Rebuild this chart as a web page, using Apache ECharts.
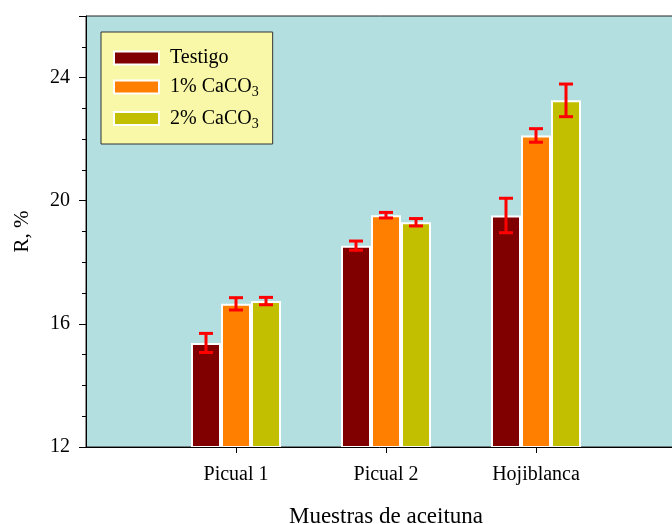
<!DOCTYPE html>
<html>
<head>
<meta charset="utf-8">
<title>R, % — Muestras de aceituna</title>
<script src="https://cdn.jsdelivr.net/npm/echarts@6/dist/echarts.min.js"></script>
<style>
  html, body { margin: 0; padding: 0; background: #ffffff; }
  #chart { width: 672px; height: 524px; }
</style>
</head>
<body>
<div id="chart"></div>
<script>
// Olive samples and treatments
const categories = ['Picual 1', 'Picual 2', 'Hojiblanca'];
const seriesNames = ['Testigo', '1% CaCO3', '2% CaCO3'];

// Mean R (%) per sample
const testigo = [15.38, 18.54, 19.52];
const caco1 = [16.65, 19.53, 22.12];
const caco2 = [16.74, 19.30, 23.26];

// Error (±) per sample
const testigoErr = [0.31, 0.15, 0.56];
const caco1Err = [0.20, 0.09, 0.22];
const caco2Err = [0.12, 0.12, 0.53];

// Y axis tick labels
const yTicks = [12, 16, 20, 24];

const values = [testigo, caco1, caco2];
const errors = [testigoErr, caco1Err, caco2Err];
const colors = ['#800000', '#ff8000', '#c2bf00'];

const FONT = "'Liberation Serif', 'Times New Roman', serif";
const BAR_W = 30;

// Padded category list: empty slots at both ends give the wide margins
const axisCats = [''].concat(categories, ['']);

const barSeries = seriesNames.map((name, s) => ({
  name: name,
  type: 'bar',
  barWidth: BAR_W,
  barGap: '0%',
  z: 2,
  itemStyle: { color: colors[s], borderColor: '#ffffff', borderWidth: 2 },
  data: [null].concat(values[s], [null])
}));

const errSeries = seriesNames.map((name, s) => ({
  type: 'custom',
  z: 5,
  silent: true,
  data: values[s].map((v, i) => [i + 1, v - errors[s][i], v + errors[s][i]]),
  renderItem: function (params, api) {
    const lo = api.coord([api.value(0), api.value(1)]);
    const hi = api.coord([api.value(0), api.value(2)]);
    const x = lo[0] + (s - 1) * BAR_W;
    const cap = 7;
    const style = { stroke: '#ff0000', lineWidth: 3 };
    return {
      type: 'group',
      children: [
        { type: 'line', shape: { x1: x, y1: lo[1], x2: x, y2: hi[1] }, style: style },
        { type: 'line', shape: { x1: x - cap, y1: lo[1], x2: x + cap, y2: lo[1] }, style: style },
        { type: 'line', shape: { x1: x - cap, y1: hi[1], x2: x + cap, y2: hi[1] }, style: style }
      ]
    };
  }
}));

const chart = echarts.init(document.getElementById('chart'), null, { renderer: 'canvas' });

chart.setOption({
  animation: false,
  backgroundColor: '#ffffff',
  textStyle: { fontFamily: FONT },
  grid: {
    left: 86, top: 16, width: 600, height: 431,
    containLabel: false,
    outerBoundsMode: 'none',
    show: true,
    backgroundColor: '#b3dfe0',
    borderColor: '#222222',
    borderWidth: 1
  },
  legend: {
    orient: 'vertical',
    left: 101,
    top: 32,
    data: seriesNames,
    backgroundColor: '#f8f8a8',
    borderColor: '#333333',
    borderWidth: 1,
    padding: [16, 14, 13, 12],
    itemGap: 9,
    itemWidth: 45,
    itemHeight: 13,
    icon: 'rect',
    selectedMode: false,
    formatter: function (name) {
      return '{g| }' + name.replace(/CaCO3$/, 'CaCO{s|3}');
    },
    textStyle: {
      fontFamily: FONT,
      fontSize: 20,
      color: '#000000',
      rich: {
        g: { width: 6, fontSize: 10 },
        s: { fontFamily: FONT, fontSize: 14, color: '#000000', padding: [11, 0, 0, 0] }
      }
    }
  },
  xAxis: {
    type: 'category',
    data: axisCats,
    boundaryGap: false,
    z: 10,
    name: 'Muestras de aceituna',
    nameLocation: 'middle',
    nameGap: 58,
    nameTextStyle: { fontFamily: FONT, fontSize: 23, color: '#000000' },
    axisLine: { lineStyle: { color: '#000000', width: 1 } },
    axisTick: {
      length: 6,
      lineStyle: { color: '#000000' },
      interval: function (index) { return index > 0 && index < axisCats.length - 1; }
    },
    axisLabel: {
      interval: 0,
      margin: 18,
      fontFamily: FONT,
      fontSize: 20,
      color: '#000000'
    },
    splitLine: { show: false }
  },
  yAxis: {
    type: 'value',
    min: yTicks[0],
    max: 26,
    interval: yTicks[1] - yTicks[0],
    z: 10,
    name: 'R, %',
    nameLocation: 'middle',
    nameGap: 53,
    nameTextStyle: { fontFamily: FONT, fontSize: 21, color: '#000000' },
    axisLine: { show: true, lineStyle: { color: '#000000', width: 1 } },
    axisTick: { show: true, length: 7, lineStyle: { color: '#000000' } },
    minorTick: { show: true, splitNumber: 4, length: 4, lineStyle: { color: '#000000' } },
    axisLabel: {
      margin: 16,
      fontFamily: FONT,
      fontSize: 20,
      color: '#000000',
      showMaxLabel: false,
      formatter: function (v) { return yTicks.indexOf(v) >= 0 ? String(v) : ''; }
    },
    splitLine: { show: false }
  },
  series: barSeries.concat(errSeries)
});
</script>
</body>
</html>
